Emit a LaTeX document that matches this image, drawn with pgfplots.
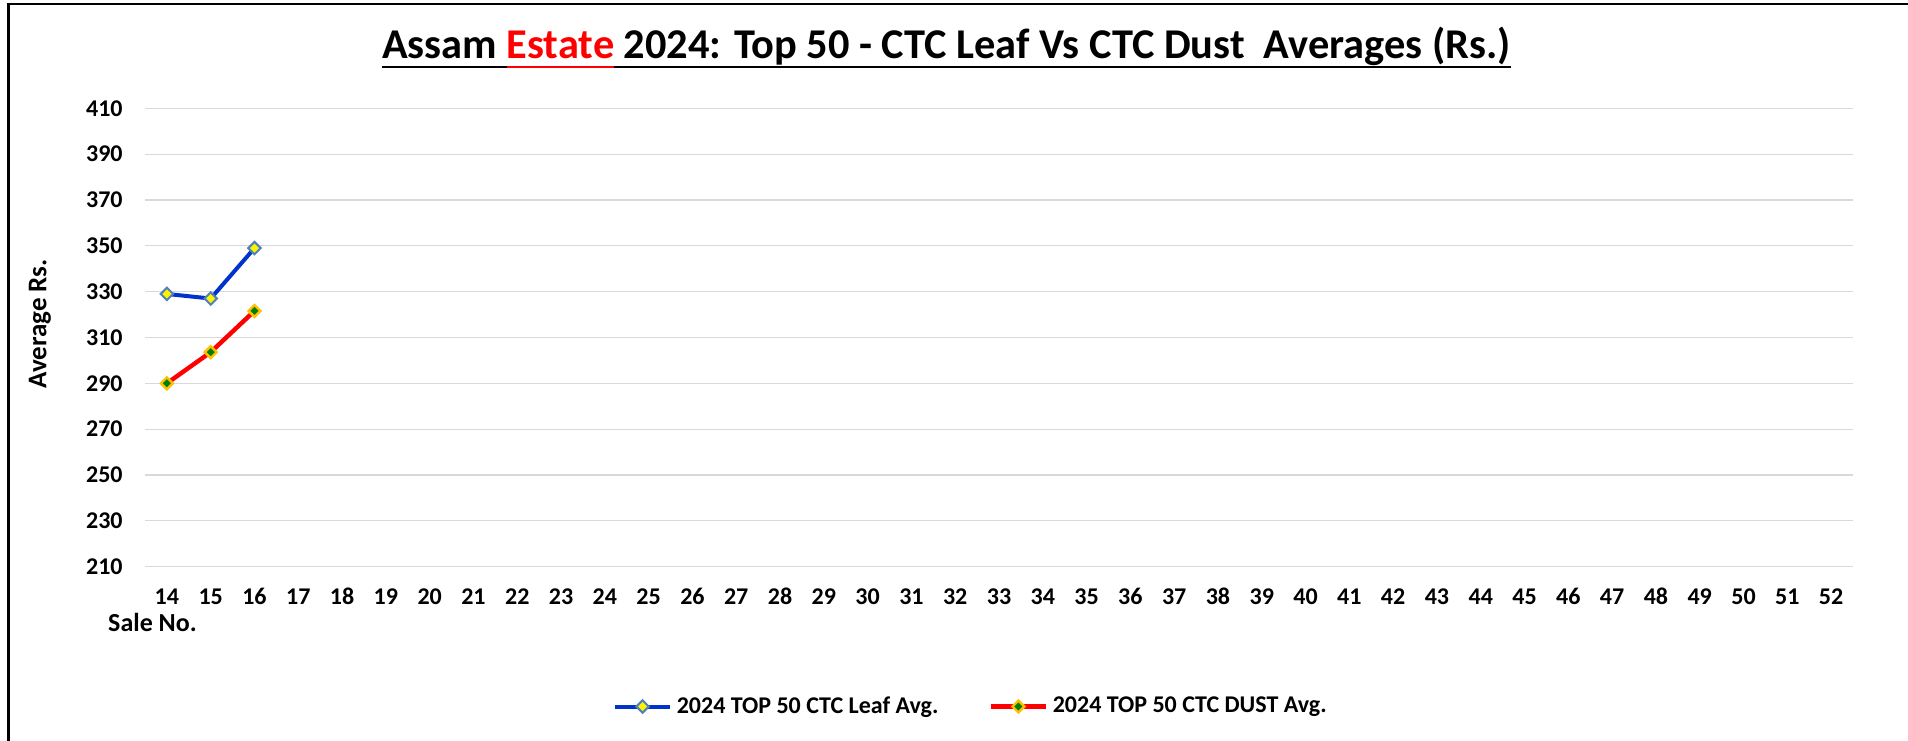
\documentclass[border=0pt]{standalone}
\usepackage{pgfplots}
\pgfplotsset{compat=1.18}
\usepackage{fontspec}
\setmainfont{Carlito}
\definecolor{leafblue}{RGB}{0,51,204}
\definecolor{leafedge}{RGB}{79,129,189}
\definecolor{dustred}{RGB}{255,0,0}
\definecolor{dustgreen}{RGB}{0,128,0}
\definecolor{dustedge}{RGB}{255,192,0}
\definecolor{gridgray}{RGB}{217,217,217}
\newcommand{\ul}[1]{\setbox0\hbox{#1}\leavevmode\rlap{\rule[-4.3pt]{\wd0}{1pt}}\box0}
\begin{document}
\begin{tikzpicture}
\useasboundingbox (0,0) rectangle (954pt,370pt);
\draw[line width=1.2pt] (4.2pt,-10pt) -- (4.2pt,368pt) -- (970pt,368pt);
\node[font=\bfseries\fontsize{21.2}{25}\selectfont, anchor=base, inner sep=0pt] at (473.25pt,340.5pt)
  {\ul{Assam }\textcolor{red}{\ul{Estate}}\ul{ 2024: Top 50 - CTC Leaf Vs CTC Dust\ \ Averages (Rs.)}};
\begin{axis}[
  at={(72.5pt,86.65pt)}, anchor=south west,
  scale only axis, width=854pt, height=229.2pt,
  xmin=13.5, xmax=52.5, ymin=210, ymax=410,
  xtick={14,15,...,52}, ytick={210,230,...,410},
  axis line style={draw=none},
  major tick length=0pt,
  ymajorgrids, grid style={gridgray, line width=0.6pt},
  /pgf/number format/assume math mode=true,
  ticklabel style={font=\bfseries\fontsize{12}{14}\selectfont, inner sep=0pt},
  yticklabel style={anchor=east, xshift=-11pt},
  xticklabel style={anchor=center, yshift=-15pt},
  ylabel={Average Rs.},
  ylabel style={at={(axis description cs:-0.0615,0.530)}, anchor=center, font=\bfseries\fontsize{13.5}{16}\selectfont},
  xlabel={Sale No.},
  xlabel style={at={(axis description cs:0.0044,-0.122)}, anchor=center, font=\bfseries\fontsize{13}{15}\selectfont},
  legend columns=2,
  legend image code/.code={\draw[mark repeat=2,mark phase=2,#1] plot coordinates {(0pt,0pt) (13.9pt,0pt) (27.8pt,0pt)};},
  legend style={at={(axis description cs:0.2739,-0.305)}, anchor=west, draw=none, fill=none,
    inner sep=0pt, outer sep=0pt, nodes={inner sep=0pt},
    font=\bfseries\fontsize{12}{14}\selectfont,
    /tikz/every odd column/.append style={column sep=2.2pt},
    /tikz/every even column/.append style={column sep=25pt}},
  legend cell align=left,
]
\addplot[leafblue, line width=2pt, mark=square*, mark size=2.2pt,
  mark options={rotate=45, fill=yellow, draw=leafedge, line width=1pt}]
  coordinates {(14,329) (15,327) (16,349)};
\addlegendentry{2024 TOP 50 CTC Leaf Avg.}
\addplot[dustred, line width=2.2pt, mark=square*, mark size=2.1pt,
  mark options={rotate=45, fill=dustgreen, draw=dustedge, line width=1.2pt}]
  coordinates {(14,290) (15,303.6) (16,321.6)};
\addlegendentry{2024 TOP 50 CTC DUST Avg.}
\end{axis}
\end{tikzpicture}
\end{document}
